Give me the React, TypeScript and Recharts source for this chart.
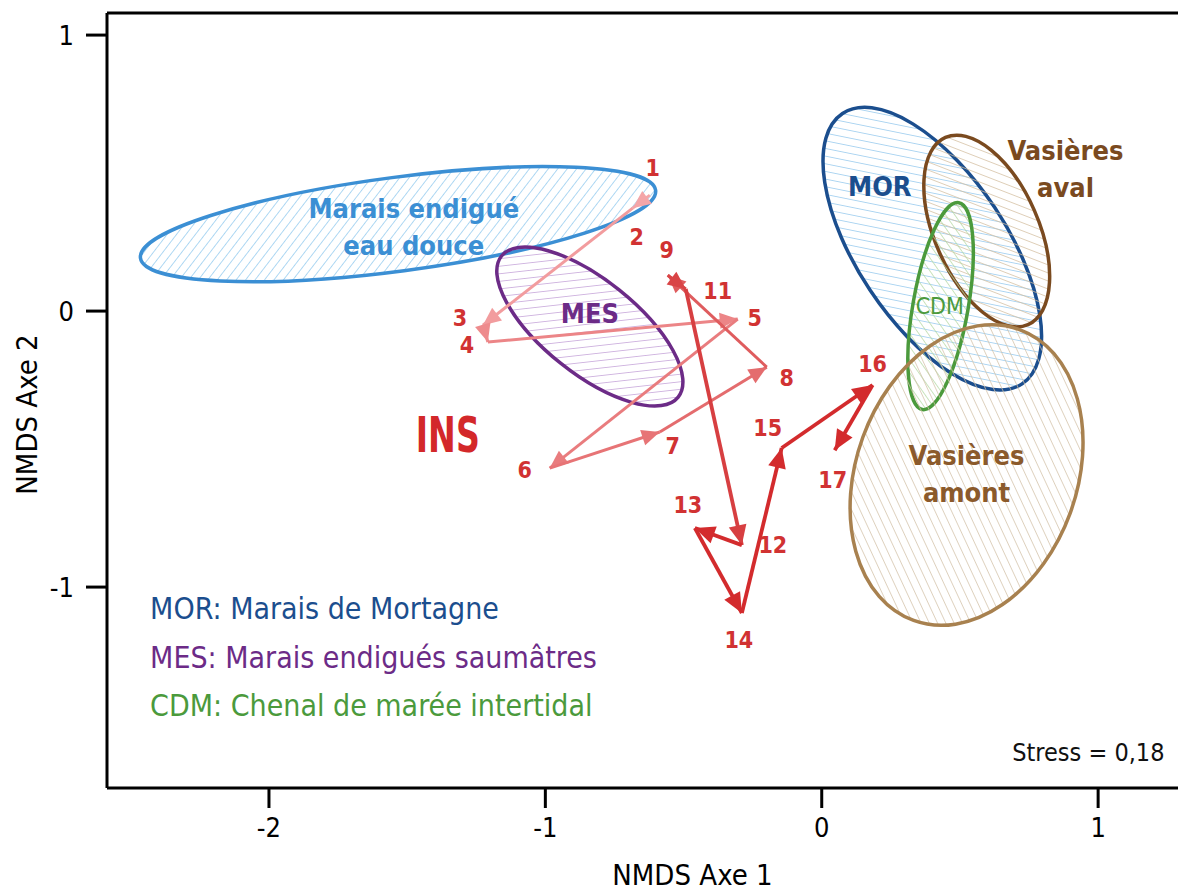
import React from "react";
import { ComposedChart, Scatter, XAxis, YAxis, ReferenceLine } from "recharts";

const W = 1178;
const H = 891;
const X_MIN = -2.586;
const X_MAX = 1.289;
const Y_MIN = -1.728;
const Y_MAX = 1.08;
const M_TOP = 13;
const Y_AXIS_W = 107;
const X_AXIS_H = 103;
// pixels per NMDS unit, used only for ellipse radii and arrow direction
const KX = (W - Y_AXIS_W) / (X_MAX - X_MIN);
const KY = (H - M_TOP - X_AXIS_H) / (Y_MAX - Y_MIN);

const FONT = "'Ubuntu Condensed','Liberation Sans Narrow','DejaVu Sans Condensed','Roboto Condensed',Roboto,sans-serif";

const xTicks = [-2, -1, 0, 1];
const yTicks = [-1, 0, 1];

// INS trajectory (sampling dates)
const dates = ["1", "2", "3", "4", "5", "6", "7", "8", "9", "11", "12", "13", "14", "15", "16", "17"];
const axis1 = [-0.622, -0.684, -1.226, -1.208, -0.304, -0.984, -0.586, -0.199, -0.557, -0.492, -0.289, -0.459, -0.289, -0.145, 0.184, 0.047];
const axis2 = [0.42, 0.373, -0.051, -0.112, -0.029, -0.569, -0.438, -0.203, 0.13, 0.08, -0.848, -0.786, -1.094, -0.496, -0.268, -0.504];

// habitat ellipses
const groups = ["marais", "mes", "mor", "aval", "cdm", "amont"];
const groupX = [-1.533, -0.839, 0.4, 0.597, 0.43, 0.524];
const groupY = [0.315, -0.056, 0.226, 0.29, 0.018, -0.594];
const groupA = [0.94, 0.409, 0.587, 0.37, 0.38, 0.56];
const groupB = [0.17, 0.17, 0.271, 0.188, 0.1, 0.4];
const groupAngle = [7.5, -38.6, -56.4, -66.2, 80, 70];

const groupStyle: Record<string, { stroke: string; hatch: string; text: string }> = {
  marais: { stroke: "#3b8fd4", hatch: "#8ec8ee", text: "#3b8fd4" },
  mes: { stroke: "#6c2b87", hatch: "#c09bd6", text: "#6c2b87" },
  mor: { stroke: "#1b4e8e", hatch: "#8ec6ec", text: "#1b4e8e" },
  aval: { stroke: "#7a4a1f", hatch: "#d3bd9e", text: "#7a4a1f" },
  cdm: { stroke: "#4b9a3c", hatch: "#b4d8a2", text: "#4b9a3c" },
  amont: { stroke: "#a8814f", hatch: "#d3c2a8", text: "#8b5a2b" },
};

const groupLabels = [
  { key: "marais", lines: ["Marais endigué", "eau douce"], x: -1.476, y: 0.308 },
  { key: "mes", lines: ["MES"], x: -0.839, y: -0.007 },
  { key: "mor", lines: ["MOR"], x: 0.21, y: 0.453 },
  { key: "aval", lines: ["Vasières", "aval"], x: 0.882, y: 0.518 },
  { key: "cdm", lines: ["CDM"], x: 0.427, y: 0.018 },
  { key: "amont", lines: ["Vasières", "amont"], x: 0.524, y: -0.587 },
];

const legendLines = [
  { key: "mor", text: "MOR: Marais de Mortagne", x: -2.43, y: -1.076 },
  { key: "mes", text: "MES:  Marais endigués saumâtres", x: -2.43, y: -1.254 },
  { key: "cdm", text: "CDM: Chenal de marée intertidal", x: -2.43, y: -1.428 },
];

const insLabel = { text: "INS", x: -1.353, y: -0.449 };
const stressLabel = { text: "Stress = 0,18", x: 1.24, y: -1.601 };

// pixel offsets of the date numbers from their points
const dateOffset: Record<string, [number, number]> = {
  "1": [3, -27], "2": [4, 29], "3": [-23, -7], "4": [-21, 3], "5": [17, -1], "6": [-25, 2],
  "7": [13, 14], "8": [20, 11], "9": [-1, -25], "11": [32, 2], "12": [31, 0], "13": [-7, -23],
  "14": [-3, 27], "15": [-14, -20], "16": [0, -21], "17": [-2, 30],
};

const segColors = ["#f4a5a8", "#f29c9e", "#ee8b8d", "#ec8587", "#e97c7e", "#e77476", "#e46c6e", "#df5c5e", "#d94446", "#d73f41", "#d32b2d", "#d32b2d", "#d32b2d", "#d32b2d", "#d32b2d"];

const points = dates.map((d, i) => ({ id: d, x: axis1[i], y: axis2[i] }));
const segments = dates.slice(1).map((_, i) => [
  { x: axis1[i], y: axis2[i] },
  { x: axis1[i + 1], y: axis2[i + 1], fx: axis1[i], fy: axis2[i], head: true },
]);
const ellipses = groups.map((g, i) => ({ key: g, x: groupX[i], y: groupY[i], a: groupA[i], b: groupB[i], angle: groupAngle[i] }));

function Arrow(props: any) {
  const { cx, cy, payload, color, big } = props;
  if (!payload || !payload.head) return <g />;
  const dx = (payload.x - payload.fx) * KX;
  const dy = -(payload.y - payload.fy) * KY;
  const len = Math.hypot(dx, dy) || 1;
  const ux = dx / len;
  const uy = dy / len;
  const L = big ? 20 : 18;
  const hw = big ? 9 : 8;
  const bx = cx - ux * L;
  const by = cy - uy * L;
  const pts = `${cx},${cy} ${bx - uy * hw},${by + ux * hw} ${bx + uy * hw},${by - ux * hw}`;
  return <polygon points={pts} fill={color} />;
}

function EllipseShape(props: any) {
  const { cx, cy, payload } = props;
  const s = groupStyle[payload.key];
  return (
    <ellipse
      cx={cx}
      cy={cy}
      rx={payload.a * KX}
      ry={payload.b * KY}
      transform={`rotate(${-payload.angle} ${cx} ${cy})`}
      fill={`url(#hatch-${payload.key})`}
      stroke={s.stroke}
      strokeWidth={3.5}
    />
  );
}

function DateLabel(props: any) {
  const { cx, cy, payload } = props;
  const [ox, oy] = dateOffset[payload.id] || [0, 0];
  return (
    <text x={cx + ox} y={cy + oy} textAnchor="middle" dominantBaseline="central" fill="#d13232" fontSize={23} fontWeight={700} fontFamily={FONT}>
      {payload.id}
    </text>
  );
}

function GroupLabel(props: any) {
  const { cx, cy, payload } = props;
  const s = groupStyle[payload.key];
  const gap = 37;
  const n = payload.lines.length;
  return (
    <text textAnchor="middle" dominantBaseline="central" fill={s.text} fontSize={payload.key === "cdm" ? 23 : 27} fontWeight={payload.key === "cdm" ? 500 : 700} fontFamily={FONT}>
      {payload.lines.map((l: string, i: number) => (
        <tspan key={i} x={cx} y={cy + (i - (n - 1) / 2) * gap}>{l}</tspan>
      ))}
    </text>
  );
}

function LegendLine(props: any) {
  const { cx, cy, payload } = props;
  return (
    <text x={cx} y={cy} dominantBaseline="central" fill={groupStyle[payload.key].text} fontSize={30} fontFamily={FONT}>
      {payload.text}
    </text>
  );
}

function InsText(props: any) {
  const { cx, cy } = props;
  return (
    <text x={cx} y={cy} textAnchor="middle" dominantBaseline="central" fill="#d3282a" fontSize={50} fontWeight={700} fontFamily={FONT} textLength={64} lengthAdjust="spacingAndGlyphs">
      {insLabel.text}
    </text>
  );
}

function StressText(props: any) {
  const { cx, cy } = props;
  return (
    <text x={cx} y={cy} textAnchor="end" dominantBaseline="central" fill="#111" fontSize={25} fontFamily={FONT}>
      {stressLabel.text}
    </text>
  );
}

const axisLine = { stroke: "#000", strokeWidth: 3 };
const tickStyle = { fontSize: 27, fill: "#000", fontFamily: FONT };

export default function App() {
  return (
    <div style={{ position: "absolute", left: 0, top: 0, width: W, height: H, background: "#fff" }}>
      <ComposedChart width={W} height={H} margin={{ top: M_TOP, right: 0, bottom: 0, left: 0 }}>
        <defs>
          {groups.map((g) => (
            <pattern key={g} id={`hatch-${g}`} patternUnits="userSpaceOnUse" width={7.5} height={7.5} patternTransform="rotate(45)">
              <line x1={0} y1={0} x2={0} y2={7.5} stroke={groupStyle[g].hatch} strokeWidth={1.4} />
            </pattern>
          ))}
        </defs>
        <XAxis
          type="number"
          dataKey="x"
          domain={[X_MIN, X_MAX]}
          ticks={xTicks}
          allowDataOverflow
          height={X_AXIS_H}
          axisLine={axisLine}
          tickLine={axisLine}
          tickSize={20}
          tickMargin={10}
          tick={tickStyle}
          label={{
            content: (p: any) => (
              <text x={p.viewBox.x + p.viewBox.width / 2 + 50} y={p.viewBox.y + 87} textAnchor="middle" dominantBaseline="central" fontSize={29} fontFamily={FONT} fill="#000">
                NMDS Axe 1
              </text>
            ),
          }}
        />
        <YAxis
          type="number"
          dataKey="y"
          domain={[Y_MIN, Y_MAX]}
          ticks={yTicks}
          allowDataOverflow
          width={Y_AXIS_W}
          axisLine={axisLine}
          tickLine={axisLine}
          tickSize={21}
          tickMargin={12}
          tick={tickStyle}
          label={{
            content: (p: any) => {
              const x = p.viewBox.x + 27;
              const y = p.viewBox.y + p.viewBox.height / 2 + 14;
              return (
                <text x={x} y={y} transform={`rotate(-90 ${x} ${y})`} textAnchor="middle" dominantBaseline="central" fontSize={29} fontFamily={FONT} fill="#000">
                  NMDS Axe 2
                </text>
              );
            },
          }}
        />
        <ReferenceLine y={Y_MAX} stroke="#000" strokeWidth={3} ifOverflow="visible" />
        <Scatter data={ellipses} shape={EllipseShape} isAnimationActive={false} />
        {segments.map((seg, i) => (
          <Scatter
            key={i}
            data={seg}
            fill={segColors[i]}
            line={{ stroke: segColors[i], strokeWidth: i >= 9 ? 3.8 : 3 }}
            shape={(p: any) => <Arrow {...p} color={segColors[i]} big={i >= 9} />}
            isAnimationActive={false}
          />
        ))}
        <Scatter data={points} shape={DateLabel} isAnimationActive={false} />
        <Scatter data={groupLabels} shape={GroupLabel} isAnimationActive={false} />
        <Scatter data={legendLines} shape={LegendLine} isAnimationActive={false} />
        <Scatter data={[insLabel]} shape={InsText} isAnimationActive={false} />
        <Scatter data={[stressLabel]} shape={StressText} isAnimationActive={false} />
      </ComposedChart>
    </div>
  );
}
